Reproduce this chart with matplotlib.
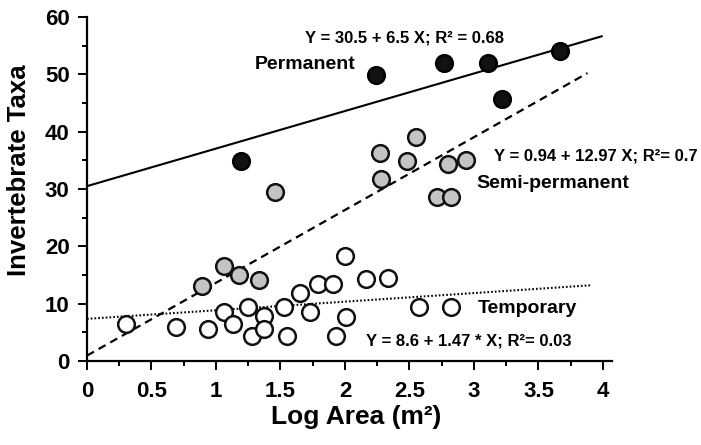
import matplotlib
matplotlib.use("Agg")
import matplotlib.pyplot as plt
import numpy as np
from matplotlib.ticker import MultipleLocator

plt.rcParams['font.family'] = ['Liberation Sans', 'DejaVu Sans']
plt.rcParams['font.weight'] = 'bold'

# ---- data ----
perm_x = [1.19, 2.24, 2.77, 3.11, 3.22, 3.67]
perm_y = [34.9, 49.8, 51.9, 51.9, 45.7, 54.0]

semi_x = [0.89, 1.06, 1.18, 1.33, 1.46, 2.27, 2.28, 2.48, 2.55, 2.71, 2.80, 2.82, 2.94]
semi_y = [13.1, 16.5, 15.0, 14.2, 29.4, 36.2, 31.8, 34.8, 39.1, 28.6, 34.4, 28.6, 35.0]

temp_x = [0.30, 0.69, 0.94, 1.06, 1.13, 1.25, 1.28, 1.37, 1.37, 1.53, 1.55, 1.65,
          1.73, 1.79, 1.91, 1.93, 2.00, 2.01, 2.16, 2.33, 2.57, 2.82]
temp_y = [6.4, 6.0, 5.6, 8.5, 6.4, 9.5, 4.4, 7.8, 5.6, 9.4, 4.4, 11.8,
          8.5, 13.5, 13.4, 4.4, 18.4, 7.6, 14.3, 14.4, 9.5, 9.5]

# fitted lines as drawn: (intercept, slope, x-end)
perm_fit = (30.5, 6.55, 3.99)
semi_fit = (0.94, 12.70, 3.88)
temp_fit = (7.35, 1.50, 3.90)

eq_perm = "Y = 30.5 + 6.5 X; R\u00b2 = 0.68"
eq_semi = "Y = 0.94 + 12.97 X; R\u00b2= 0.7"
eq_temp = "Y = 8.6 + 1.47 * X; R\u00b2= 0.03"

xticks = [0, 0.5, 1, 1.5, 2, 2.5, 3, 3.5, 4]
xticklabels = ["0", "0.5", "1", "1.5", "2", "2.5", "3", "3.5", "4"]
yticks = [0, 10, 20, 30, 40, 50, 60]

fig = plt.figure(figsize=(7.01, 4.45), dpi=100)
ax = fig.add_axes([87/701, 1-361/445, 525/701, 344/445])

# regression lines
for (b, m, xe), ls, lw in [(perm_fit, '-', 1.5),
                           (semi_fit, (0, (3.6, 2.4)), 1.6),
                           (temp_fit, (0, (0.8, 1.0)), 1.5)]:
    xs = np.array([0, xe])
    ax.plot(xs, b + m*xs, color='black', linestyle=ls, linewidth=lw, zorder=2)

ms = 12**2
ax.scatter(temp_x, temp_y, s=ms, facecolor='white', edgecolor='#111111', linewidth=1.8, zorder=3, clip_on=False)
ax.scatter(semi_x, semi_y, s=ms, facecolor='#c4c4c4', edgecolor='#111111', linewidth=1.8, zorder=4, clip_on=False)
ax.scatter(perm_x, perm_y, s=ms, facecolor='#111111', edgecolor='#000000', linewidth=1.8, zorder=5, clip_on=False)

tkw = dict(fontsize=12, fontweight='bold', va='center', ha='left', clip_on=False)
lkw = dict(fontsize=14, fontweight='bold', va='center', ha='left', clip_on=False)
ax.text(1.69, 56.3, eq_perm, **tkw)
ax.text(1.30, 51.7, "Permanent", **lkw)
ax.text(3.155, 35.8, eq_semi, **tkw)
ax.text(3.02, 31.0, "Semi-permanent", **lkw)
ax.text(3.03, 9.1, "Temporary", **lkw)
ax.text(2.16, 3.5, eq_temp, **tkw)

ax.set_xlim(0, 4.07)
ax.set_ylim(0, 60)
ax.set_xticks(xticks)
ax.set_xticklabels(xticklabels)
ax.set_yticks(yticks)
ax.xaxis.set_minor_locator(MultipleLocator(0.25))
ax.yaxis.set_minor_locator(MultipleLocator(5))
ax.tick_params(which='major', direction='out', length=6.5, width=1.4, labelsize=16)
ax.tick_params(axis='x', which='major', pad=8)
ax.tick_params(axis='y', which='major', pad=6)
ax.tick_params(which='minor', direction='out', length=3.5, width=1.4)
for lab in ax.get_xticklabels() + ax.get_yticklabels():
    lab.set_fontweight('bold')

for s in ['top', 'right']:
    ax.spines[s].set_visible(False)
for s in ['left', 'bottom']:
    ax.spines[s].set_linewidth(1.6)

ax.set_xlabel("Log Area (m\u00b2)", fontsize=19, fontweight='bold')
ax.set_ylabel("Invertebrate Taxa", fontsize=18.5, fontweight='bold')
ax.xaxis.set_label_coords(0.512, -0.128)
ax.yaxis.set_label_coords(-0.107, 0.555)

fig.savefig("out.png", dpi=100)
